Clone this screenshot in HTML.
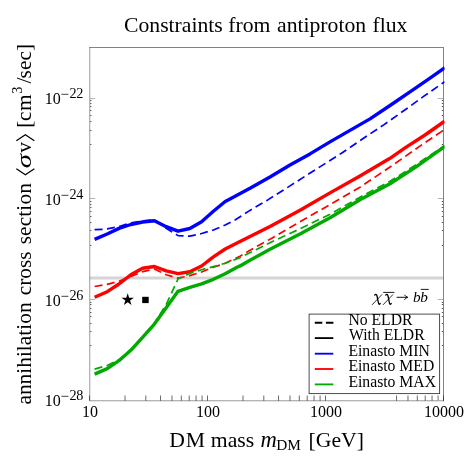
<!DOCTYPE html>
<html><head><meta charset="utf-8"><title>Constraints from antiproton flux</title>
<style>html,body{margin:0;padding:0;background:#fff;width:466px;height:466px;overflow:hidden;font-family:"Liberation Serif",serif} .t, .t text, .t tspan{font-family:"Liberation Serif",serif;font-variant-ligatures:none;font-kerning:normal}</style></head>
<body>
<svg width="466" height="466" viewBox="0 0 466 466" style="position:absolute;left:0;top:0;will-change:transform;transform:translateZ(0)">
<rect width="466" height="466" fill="#fff"/>
<line x1="89.5" x2="443.5" y1="278" y2="278" stroke="#d4d4d4" stroke-width="2.8"/>
<defs><clipPath id="cp"><rect x="89.5" y="47.5" width="355.1" height="353.0"/></clipPath></defs>
<path d="M443.5,401.2 V47 M444,47.5 H89.3" fill="none" stroke="#828282" stroke-width="1"/><path d="M89.78,47 V401.2 M89.3,400.78 H444" fill="none" stroke="#828282" stroke-width="0.8"/>
<g clip-path="url(#cp)" fill="none" stroke-linejoin="round">
<path d="M94.6,229.6 L103.0,229.4 L107.2,228.8 L119.0,226.5 L130.8,222.8 L142.6,221.0 L154.4,219.8 L166.2,228.3 L178.0,235.6 L189.8,236.2 L201.6,233.5 L213.4,230.0 L225.2,225.0 L235.0,220.0 L250.0,210.4 L267.8,199.9 L290.0,185.9 L307.8,174.5 L330.0,160.5 L342.6,152.5 L370.0,133.9 L384.1,124.6 L410.0,106.3 L424.3,95.9 L443.5,82.5 L444.7,81.7" stroke="#0000ff" stroke-width="1.7" stroke-dasharray="8,4.4"/>
<path d="M94.6,239.4 L107.2,234.0 L119.0,228.4 L130.8,224.5 L142.6,222.0 L154.4,220.7 L166.2,226.7 L178.0,231.2 L189.8,228.5 L201.6,221.8 L213.4,211.3 L225.2,201.5 L230.0,199.0 L250.0,188.3 L270.0,177.0 L290.0,165.0 L310.0,153.9 L330.0,141.9 L350.0,130.4 L370.0,118.9 L390.0,105.5 L410.0,91.9 L430.0,78.2 L443.5,68.6 L444.7,67.7" stroke="#0000ff" stroke-width="3.4"/>
<path d="M94.6,286.5 L107.2,284.4 L119.0,281.2 L130.8,276.5 L142.6,271.7 L154.4,269.0 L166.2,274.8 L178.0,278.2 L189.8,275.6 L201.6,272.0 L213.4,267.3 L225.2,263.3 L240.0,256.2 L257.0,246.3 L270.0,239.2 L300.0,221.7 L330.0,204.6 L360.0,187.2 L390.0,167.0 L425.0,142.6 L443.5,130.3 L444.7,129.5" stroke="#ff0000" stroke-width="1.7" stroke-dasharray="8,4.4"/>
<path d="M94.6,297.2 L107.2,291.7 L119.0,284.0 L130.8,274.8 L142.6,268.3 L154.4,266.5 L166.2,270.9 L178.0,273.6 L189.8,271.7 L201.6,266.0 L213.4,256.8 L225.2,249.0 L240.0,241.4 L255.0,234.0 L270.0,226.6 L300.0,210.3 L330.0,192.9 L360.0,175.9 L390.0,158.3 L405.0,147.9 L425.0,135.0 L443.5,122.0 L444.7,121.2" stroke="#ff0000" stroke-width="3.4"/>
<path d="M94.6,369.1 L107.2,365.5 L119.0,359.7 L130.8,349.5 L142.6,336.6 L154.4,323.3 L166.2,304.5 L178.0,279.0 L189.8,273.4 L201.6,269.7 L213.4,266.6 L225.2,263.3 L240.0,257.7 L257.0,249.2 L270.0,242.7 L300.0,228.8 L330.0,214.2 L360.0,197.2 L390.0,181.3 L415.7,165.0 L443.5,146.3 L444.7,145.5" stroke="#00aa00" stroke-width="1.7" stroke-dasharray="8,4.4"/>
<path d="M94.6,374.1 L107.2,368.6 L119.0,360.7 L130.8,350.3 L142.6,337.4 L154.4,324.1 L166.2,307.8 L178.0,291.3 L189.8,287.3 L201.6,283.8 L213.4,279.3 L225.2,273.8 L237.0,267.3 L240.0,265.9 L250.0,260.3 L270.0,249.3 L300.0,233.9 L330.0,217.8 L360.0,199.8 L390.0,183.8 L415.7,167.1 L443.5,147.3 L444.7,146.4" stroke="#00aa00" stroke-width="3.4"/>
</g>
<path d="M89.50,400.8 v-5.3 M125.02,400.8 v-5.3 M145.80,400.8 v-5.3 M160.54,400.8 v-5.3 M171.98,400.8 v-5.3 M181.32,400.8 v-5.3 M189.22,400.8 v-5.3 M196.06,400.8 v-5.3 M202.10,400.8 v-5.3 M207.50,400.8 v-5.3 M243.02,400.8 v-5.3 M263.80,400.8 v-5.3 M278.54,400.8 v-5.3 M289.98,400.8 v-5.3 M299.32,400.8 v-5.3 M307.22,400.8 v-5.3 M314.06,400.8 v-5.3 M320.10,400.8 v-5.3 M325.50,400.8 v-5.3 M396.54,400.8 v-5.3 M407.98,400.8 v-5.3 M417.32,400.8 v-5.3 M425.22,400.8 v-5.3 M432.06,400.8 v-5.3 M438.10,400.8 v-5.3 M443.50,400.8 v-5.3" stroke="#2a2a2a" stroke-width="0.7" fill="none"/>
<path d="M90.1,345.5 h1.3 M443.1,345.5 h-1.3 M90.1,331.5 h1.3 M443.1,331.5 h-1.3 M90.1,323.5 h1.3 M443.1,323.5 h-1.3 M90.1,316.5 h1.3 M443.1,316.5 h-1.3 M90.1,312.5 h1.3 M443.1,312.5 h-1.3 M90.1,308.5 h1.3 M443.1,308.5 h-1.3 M90.1,304.5 h1.3 M443.1,304.5 h-1.3 M90.1,302.5 h1.3 M443.1,302.5 h-1.3 M90.1,245.5 h1.3 M443.1,245.5 h-1.3 M90.1,230.5 h1.3 M443.1,230.5 h-1.3 M90.1,222.5 h1.3 M443.1,222.5 h-1.3 M90.1,216.5 h1.3 M443.1,216.5 h-1.3 M90.1,211.5 h1.3 M443.1,211.5 h-1.3 M90.1,207.5 h1.3 M443.1,207.5 h-1.3 M90.1,204.5 h1.3 M443.1,204.5 h-1.3 M90.1,201.5 h1.3 M443.1,201.5 h-1.3 M90.1,144.5 h1.3 M443.1,144.5 h-1.3 M90.1,130.5 h1.3 M443.1,130.5 h-1.3 M90.1,121.5 h1.3 M443.1,121.5 h-1.3 M90.1,115.5 h1.3 M443.1,115.5 h-1.3 M90.1,110.5 h1.3 M443.1,110.5 h-1.3 M90.1,106.5 h1.3 M443.1,106.5 h-1.3 M90.1,103.5 h1.3 M443.1,103.5 h-1.3 M90.1,100.5 h1.3 M443.1,100.5 h-1.3" stroke="#555" stroke-width="1" fill="none"/>
<path d="M89.8,400.50 h5.3 M443.0,400.50 h-5.3 M89.8,299.50 h5.3 M443.0,299.50 h-5.3 M89.8,198.50 h5.3 M443.0,198.50 h-5.3 M89.8,98.50 h5.3 M443.0,98.50 h-5.3" stroke="#b4b4b4" stroke-width="1" fill="none"/>
<polygon points="127.70,293.20 129.16,297.69 133.88,297.69 130.06,300.47 131.52,304.96 127.70,302.18 123.88,304.96 125.34,300.47 121.52,297.69 126.24,297.69" fill="#000"/>
<rect x="142.2" y="296.8" width="6.5" height="6.3" fill="#000"/>
<rect x="309.1" y="314.1" width="130.5" height="79.5" fill="#fff" stroke="#3a3a3a" stroke-width="0.9"/>
<line x1="314.8" x2="333.4" y1="322.8" y2="322.8" stroke="#000" stroke-width="2.1" stroke-dasharray="7.5,3.6"/>
<line x1="314.8" x2="333.3" y1="338.1" y2="338.1" stroke="#000" stroke-width="1.85"/>
<line x1="314.8" x2="333.3" y1="353.7" y2="353.7" stroke="#0000ff" stroke-width="1.85"/>
<line x1="314.8" x2="333.3" y1="369.0" y2="369.0" stroke="#ff0000" stroke-width="1.85"/>
<line x1="314.8" x2="333.3" y1="384.4" y2="384.4" stroke="#00aa00" stroke-width="1.85"/>
<g class="t" fill="#000">
<text x="348.4" y="325.0" font-size="15.7">No ELDR</text>
<text x="349.0" y="340.4" font-size="15.7">With ELDR</text>
<text x="348.4" y="355.9" font-size="15.7">Einasto MIN</text>
<text x="348.4" y="371.2" font-size="15.7">Einasto MED</text>
<text x="348.4" y="386.8" font-size="15.7">Einasto MAX</text>
<text x="124.0" y="31.7" font-size="21.7">Constraints</text>
<text x="228.2" y="31.7" font-size="21.7">from</text>
<text x="277.0" y="31.7" font-size="21.7">antiproton</text>
<text x="372.5" y="31.7" font-size="21.7">flux</text>
<text x="90.1" y="417" font-size="16" text-anchor="middle">10</text>
<text x="208.1" y="417" font-size="16" text-anchor="middle">100</text>
<text x="326.1" y="417" font-size="16" text-anchor="middle">1000</text>
<text x="444.1" y="417" font-size="16" text-anchor="middle">10000</text>
<text x="60.7" y="104.3" font-size="16" text-anchor="end">10</text>
<text x="60.6" y="99.2" font-size="15">−</text>
<text x="69.4" y="98.2" font-size="14.2" letter-spacing="-0.25">22</text>
<text x="60.7" y="205.0" font-size="16" text-anchor="end">10</text>
<text x="60.6" y="199.9" font-size="15">−</text>
<text x="69.4" y="198.9" font-size="14.2" letter-spacing="-0.25">24</text>
<text x="60.7" y="305.7" font-size="16" text-anchor="end">10</text>
<text x="60.6" y="300.6" font-size="15">−</text>
<text x="69.4" y="299.6" font-size="14.2" letter-spacing="-0.25">26</text>
<text x="60.7" y="406.4" font-size="16" text-anchor="end">10</text>
<text x="60.6" y="401.3" font-size="15">−</text>
<text x="69.4" y="400.3" font-size="14.2" letter-spacing="-0.25">28</text>
<text x="169.3" y="446.8" font-size="21.7" letter-spacing="0.9">DM</text>
<text x="210.8" y="446.8" font-size="21.7" >mass</text>
<text x="260.4" y="446.8"  font-style="italic" font-size="22.6">m</text>
<text x="308.5" y="446.8" font-size="21.7" >[GeV]</text>
<text x="276.2" y="450.2" font-size="15.3">DM</text>
<g transform="translate(30.75,404.6) rotate(-90)"><text x="0.00" font-size="21.4" y="0" >annihilation</text><text x="109.30" font-size="21.4" y="0" >cross</text><text x="160.30" font-size="21.4" y="0" letter-spacing="0.1">section</text><text x="236.30" font-size="21.4" y="0" font-style="italic" textLength="14.2" lengthAdjust="spacingAndGlyphs">σ</text><text x="251.80" font-size="21.4" y="0" >v</text><text x="276.80" font-size="21.4" y="0" >[</text><text x="283.60" font-size="21.4" y="0" letter-spacing="0.5">cm</text><text x="310.80"  font-size="14.3" y="-9.2">3</text><text x="321.00" font-size="21.4" y="0" >/</text><text x="326.20" font-size="21.4" y="0" >sec</text><text x="353.50" font-size="21.4" y="0" >]</text><path d="M235.8,-14.4 L229.9,-5.4 L235.8,3.6 M263.9,-14.4 L269.9,-5.4 L263.9,3.6" fill="none" stroke="#000" stroke-width="1.25" stroke-linejoin="miter"/></g>
<g transform="translate(372.2,304.7)" fill="none" stroke="#000" stroke-linecap="round"><path d="M2.5,-9.6 C3.2,-10.5 4.3,-10.6 4.7,-9.2 L6.3,-1.5 C6.6,0.0 7.3,-0.3 8.0,-1.2" stroke-width="1.3"/><path d="M9.6,-10.0 L0.1,-0.1" stroke-width="0.8"/></g>
<g transform="translate(383.2,304.7)" fill="none" stroke="#000" stroke-linecap="round"><path d="M2.5,-9.6 C3.2,-10.5 4.3,-10.6 4.7,-9.2 L6.3,-1.5 C6.6,0.0 7.3,-0.3 8.0,-1.2" stroke-width="1.3"/><path d="M9.6,-10.0 L0.1,-0.1" stroke-width="0.8"/></g>
<path d="M397.0,297.3 H407.3 M404.6,295.1 Q405.6,296.7 407.7,297.3 Q405.6,297.9 404.6,299.5" fill="none" stroke="#000" stroke-width="0.95" stroke-linecap="round" stroke-linejoin="round"/>
<text x="413.0" y="301.7" font-size="15.2" font-style="italic">b</text>
<text x="420.3" y="301.7" font-size="15.2" font-style="italic">b</text>
<path d="M383.2,292.4 H394.4 M420.8,289.4 H428.8" stroke="#000" stroke-width="0.9" fill="none"/>
</g>
</svg>
</body></html>
